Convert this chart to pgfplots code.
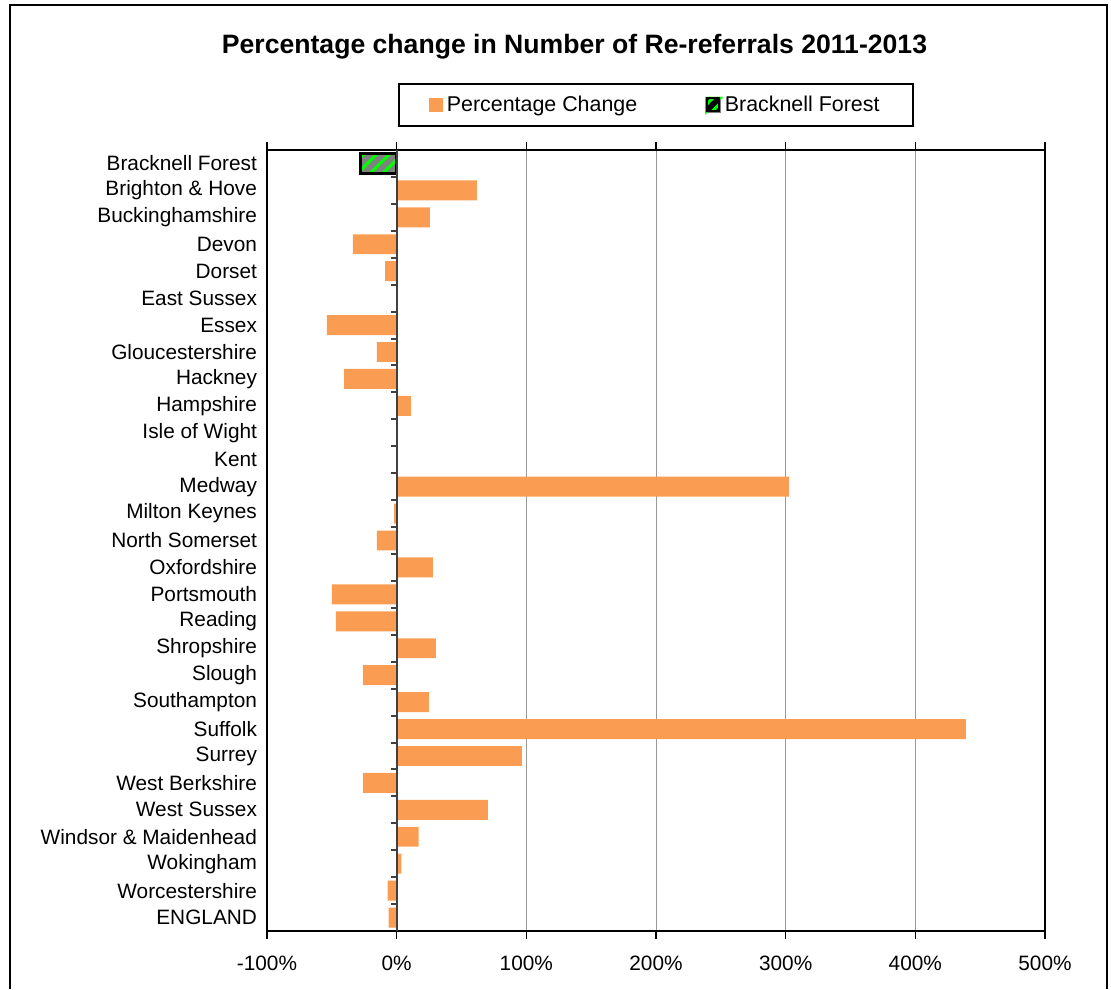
\documentclass[border=0pt]{standalone}
\usepackage{pgfplots}
\pgfplotsset{compat=1.18}
\usepackage{fontspec}
\setmainfont{Liberation Sans}
\usetikzlibrary{patterns.meta}
\definecolor{barorange}{RGB}{250,157,82}
\definecolor{hatchgreen}{RGB}{0,255,0}
\definecolor{hatchgray}{RGB}{128,128,128}
\begin{document}
\begin{tikzpicture}
\useasboundingbox (0,0) rectangle (555.5pt,-494.5pt);
\draw[black, line width=1pt] (5pt,-494.5pt) -- (5pt,-2.5pt) -- (553.5pt,-2.5pt) -- (553.5pt,-494.5pt);
\node[font=\fontsize{13.3}{16}\selectfont\bfseries] at (287.25pt,-23.5pt) {Percentage change in Number of Re-referrals 2011-2013};
\begin{axis}[
  at={(133.5pt,-465.5pt)}, anchor=south west,
  scale only axis, width=389pt, height=390.5pt,
  xbar, bar width=0.74,
  xmin=-100, xmax=500,
  ymin=-0.5, ymax=28.5,
  y dir=reverse,
  xtick={-100,0,...,500},
  xticklabel={\pgfmathprintnumber{\tick}\%},
  /pgf/number format/assume math mode=true,
  ytick={0,...,28},
  yticklabels={Bracknell Forest, Brighton \& Hove, Buckinghamshire, Devon, Dorset, East Sussex, Essex, Gloucestershire, Hackney, Hampshire, Isle of Wight, Kent, Medway, Milton Keynes, North Somerset, Oxfordshire, Portsmouth, Reading, Shropshire, Slough, Southampton, Suffolk, Surrey, West Berkshire, West Sussex, Windsor \& Maidenhead, Wokingham, Worcestershire, ENGLAND},
  ytick style={draw=none},
  xtick style={black, line width=0.6pt},
  tick align=outside,
  major tick length=4pt,
  xmajorgrids,
  grid style={gray!80, line width=0.5pt},
  axis line style={black, line width=1.3pt},
  tick label style={font=\fontsize{10.4}{12}\selectfont},
  xticklabel style={yshift=-5pt},
  yticklabel style={xshift=2.5pt},
  legend columns=2,
  legend style={at={(0.5,1)}, anchor=south, yshift=11.5pt, draw=black, line width=1pt,
    font=\fontsize{10.7}{12}\selectfont, inner xsep=15pt, inner ysep=4pt,
    /tikz/every even column/.append style={column sep=32pt}},
]
\addplot[fill=barorange, draw=none, bar shift=0pt,
  legend image code/.code={\fill[barorange] (0pt,-3.6pt) rectangle (7.2pt,3.6pt);}]
  coordinates {
  (61.9,1) (25.7,2) (-33.7,3) (-9,4) (0,5) (-53.8,6) (-15.2,7) (-40.6,8) (11,9)
  (0,10) (0,11) (302.5,12) (-2,13) (-15.2,14) (28,15) (-50,16) (-46.8,17) (30.3,18)
  (-26,19) (24.9,20) (439,21) (96.6,22) (-26,23) (70.4,24) (17,25) (3.6,26) (-7,27) (-6.2,28)
  };
\addlegendentry{Percentage Change}
\addplot[fill=hatchgray, draw=black, line width=1.4pt, bar shift=0pt,
  postaction={pattern={Lines[angle=45,distance=4.5pt,line width=1.6pt]}, pattern color=hatchgreen},
  legend image code/.code={
    \fill[hatchgray] (0pt,-3.2pt) rectangle (6.4pt,3.2pt);
    \fill[hatchgreen] (0pt,-3.2pt) -- (0pt,3.2pt) -- (6.4pt,3.2pt) -- cycle;
    \draw[black, line width=1pt] (0pt,-3.2pt) rectangle (6.4pt,3.2pt);}]
  coordinates {(-28,0)};
\addlegendentry{Bracknell Forest}
\draw[black!75, line width=1pt] (axis cs:0,-0.5) -- (axis cs:0,28.5);
\pgfplotsinvokeforeach{0,...,27}{
  \draw[black!75, line width=1pt] (axis cs:0,#1+0.5) -- ++(-3pt,0pt);
}
\end{axis}
\end{tikzpicture}
\end{document}
